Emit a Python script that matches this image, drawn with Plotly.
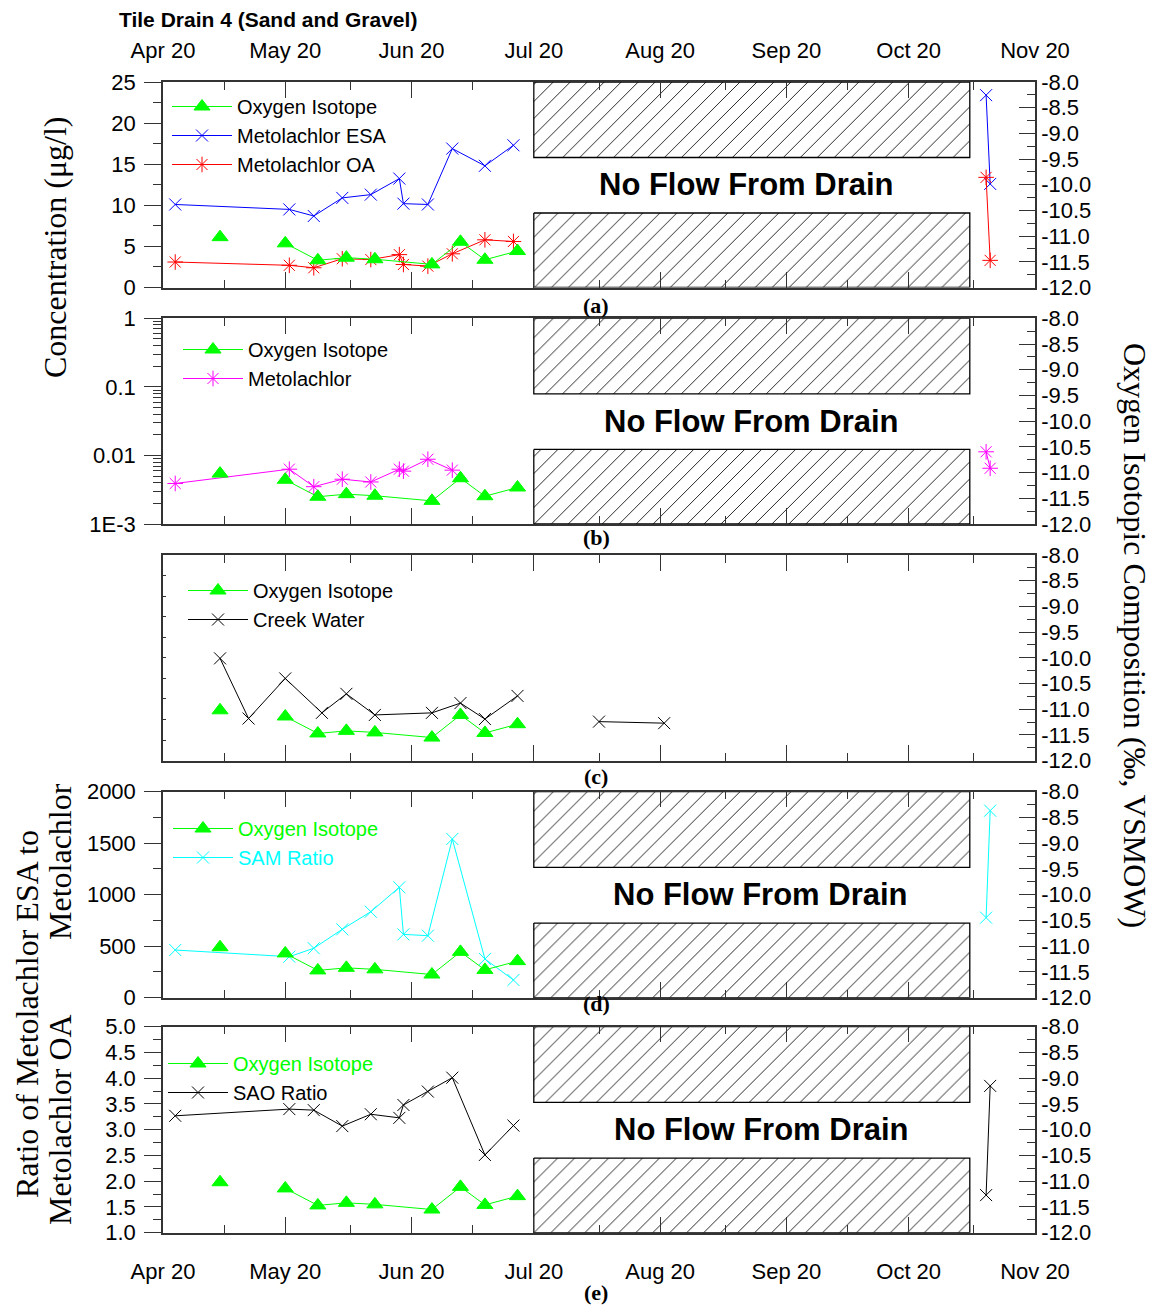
import plotly.graph_objects as go

# ---------------- data ----------------
X_START = "2001-04-20"
X_END = "2001-11-20"
NO_FLOW_START = "2001-07-20"
NO_FLOW_END = "2001-11-04"

iso_dates = ["2001-05-04", "2001-05-20", "2001-05-28", "2001-06-04", "2001-06-11",
             "2001-06-25", "2001-07-02", "2001-07-08", "2001-07-16"]
iso_values = [-11.02, -11.14, -11.47, -11.42, -11.45, -11.55, -11.11, -11.46, -11.29]
iso_breaks = [1]

sample_dates = ["2001-04-23", "2001-05-21", "2001-05-27", "2001-06-03", "2001-06-10",
                "2001-06-17", "2001-06-18", "2001-06-24", "2001-06-30", "2001-07-08",
                "2001-07-15", "2001-11-08", "2001-11-09"]
sample_breaks = [11]
esa_values = [10.1, 9.5, 8.7, 10.9, 11.3, 13.25, 10.2, 10.1, 16.9, 14.8, 17.3, 23.4, 12.6]
oa_values = [3.1, 2.7, 2.4, 3.5, 3.4, 4.0, 2.8, 2.6, 4.1, 5.8, 5.6, 13.4, 3.3]
sam_values = [463, 398, 480, 664, 835, 1072, 615, 602, 1541, 376, 172, 777, 1816]
sao_values = [3.27, 3.40, 3.38, 3.07, 3.30, 3.23, 3.48, 3.74, 4.01, 2.51, 3.08, 1.73, 3.85]

met_dates = ["2001-04-23", "2001-05-21", "2001-05-27", "2001-06-03", "2001-06-10",
             "2001-06-17", "2001-06-18", "2001-06-24", "2001-06-30", "2001-11-08",
             "2001-11-09"]
met_values = [0.0039, 0.0063, 0.0035, 0.0045, 0.0041, 0.0063, 0.0059, 0.0088, 0.0061,
              0.0113, 0.0065]
met_breaks = [9]

creek_dates = ["2001-05-04", "2001-05-11", "2001-05-20", "2001-05-29", "2001-06-04",
               "2001-06-11", "2001-06-25", "2001-07-02", "2001-07-08", "2001-07-16",
               "2001-08-05", "2001-08-21"]
creek_values = [-10.01, -11.18, -10.40, -11.07, -10.70, -11.11, -11.07, -10.88, -11.19,
                -10.74, -11.24, -11.27]
creek_breaks = [10]

ISO_RANGE = [-12, -8]
ISO_TICKS = [-12.0, -11.5, -11.0, -10.5, -10.0, -9.5, -9.0, -8.5, -8.0]
HATCH_UPPER = [-9.47, -8]
HATCH_LOWER = [-12, -10.55]

panel_letters = ["(a)", "(b)", "(c)", "(d)", "(e)"]

# ---------------- style ----------------
W, H = 1160, 1306
SANS = "Liberation Sans, Arial, sans-serif"
SERIF = "Liberation Serif, Times New Roman, serif"
GREEN = "#00FF00"
AXC = "#333333"

X0, X1 = 163, 1035
panels_px = [(82, 287.5), (318.3, 524), (555, 760.7), (791.7, 997.7), (1026.7, 1232.7)]
letter_y = [305, 537, 776, 1004, 1292]
legend_px = [(167, 87), (178, 330), (183, 571), (168, 809), (163, 1044)]
nf_xshift = [-3, 2, 0, 11, 12]


def broken(xs, ys, breaks):
    ox, oy = [], []
    for i, (a, b) in enumerate(zip(xs, ys)):
        if i in breaks:
            ox.append(None)
            oy.append(None)
        ox.append(a)
        oy.append(b)
    return ox, oy


fig = go.Figure()


def line_trace(xs, ys, breaks, name, color, symbol, size, xa, ya, leg, legname=None):
    bx, by = broken(xs, ys, breaks)
    fig.add_trace(go.Scatter(
        x=bx, y=by, mode="lines+markers", name=legname or name,
        line=dict(color=color, width=1),
        marker=dict(symbol=symbol, size=size, color=color,
                    line=dict(color=color, width=1)),
        xaxis=xa, yaxis=ya, legend=leg, connectgaps=False))


def iso_trace(n, leg, legname="Oxygen Isotope"):
    line_trace(iso_dates, iso_values, iso_breaks, "Oxygen Isotope", GREEN,
               "triangle-up", 14, f"x{n}", f"y{n + 5}", leg, legname)


def hatch(n):
    for lo, hi in (HATCH_UPPER, HATCH_LOWER):
        fig.add_trace(go.Scatter(
            x=[NO_FLOW_START, NO_FLOW_END, NO_FLOW_END, NO_FLOW_START, NO_FLOW_START],
            y=[hi, hi, lo, lo, hi], mode="lines", fill="toself",
            fillcolor="white",
            fillpattern=dict(shape="/", fgcolor="black", bgcolor="white",
                             size=12, solidity=0.07),
            line=dict(color="black", width=1.3),
            xaxis=f"x{n}", yaxis=f"y{n + 5}", showlegend=False, hoverinfo="skip"))


# panel (a)
hatch(1)
iso_trace(1, "legend")
line_trace(sample_dates, esa_values, sample_breaks, "Metolachlor ESA", "blue",
           "x-thin-open", 12, "x1", "y1", "legend")
line_trace(sample_dates, oa_values, sample_breaks, "Metolachlor OA", "red",
           "asterisk-open", 13, "x1", "y1", "legend")
# panel (b)
hatch(2)
iso_trace(2, "legend2")
line_trace(met_dates, met_values, met_breaks, "Metolachlor", "magenta",
           "asterisk-open", 13, "x2", "y2", "legend2")
# panel (c)
fig.add_trace(go.Scatter(x=[], y=[], xaxis="x3", yaxis="y3", showlegend=False))
iso_trace(3, "legend3")
line_trace(creek_dates, creek_values, creek_breaks, "Creek Water", "black",
           "x-thin-open", 12, "x3", "y8", "legend3")
# panel (d)
hatch(4)
iso_trace(4, "legend4", f"<span style='color:{GREEN}'>Oxygen Isotope</span>")
line_trace(sample_dates, sam_values, sample_breaks, "SAM Ratio", "cyan",
           "x-thin-open", 12, "x4", "y4", "legend4",
           "<span style='color:#00FFFF'>SAM Ratio</span>")
# panel (e)
hatch(5)
iso_trace(5, "legend5", f"<span style='color:{GREEN}'>Oxygen Isotope</span>")
line_trace(sample_dates, sao_values, sample_breaks, "SAO Ratio", "black",
           "x-thin-open", 12, "x5", "y5", "legend5")

# ---------------- layout ----------------
tickfont = dict(family=SANS, size=22, color="black")
layout = dict(template="none", width=W, height=H, margin=dict(l=0, r=0, t=0, b=0),
              paper_bgcolor="white", plot_bgcolor="white", showlegend=True,
              font=dict(family=SANS, color="black"))

left_specs = [
    dict(range=[0, 25], dtick=5, minor=dict(dtick=2.5, ticks="outside", ticklen=8,
                                            tickcolor=AXC)),
    dict(type="log", range=[-3, 0], tickvals=[0.001, 0.01, 0.1, 1],
         ticktext=["1E-3", "0.01", "0.1", "1"],
         minor=dict(dtick="D1", ticks="outside", ticklen=8, tickcolor=AXC)),
    dict(range=[0, 10], dtick=1, showticklabels=False, ticks="inside", ticklen=3),
    dict(range=[0, 2000], dtick=500, minor=dict(dtick=250, ticks="outside", ticklen=8,
                                                tickcolor=AXC)),
    dict(range=[1, 5], dtick=0.5, tickformat=".1f",
         minor=dict(dtick=0.25, ticks="outside", ticklen=8, tickcolor=AXC)),
]

for i, (top, bot) in enumerate(panels_px):
    n = i + 1
    ydom = [1 - bot / H, 1 - top / H]
    xa = dict(type="date", range=[X_START, X_END], tick0=X_START, dtick="M1",
              tickformat="%b %d", ticks="inside", ticklen=16, tickcolor=AXC,
              showline=True, linecolor=AXC, linewidth=1.5, mirror="ticks",
              showgrid=False, zeroline=False, tickfont=tickfont, automargin=False,
              domain=[X0 / W, X1 / W], anchor=f"y{n}",
              showticklabels=(n in (1, 5)), side="top" if n == 1 else "bottom",
              ticklabelstandoff=13 if n == 1 else 18,
              minor=dict(ticks="inside", ticklen=8, tick0="2001-05-05", dtick="M1",
                         tickcolor=AXC, showgrid=False))
    if n > 1:
        xa["matches"] = "x"
    layout["xaxis" if n == 1 else f"xaxis{n}"] = xa

    ya = dict(domain=ydom, anchor=f"x{n}", showline=True, linecolor=AXC, linewidth=1.5,
              ticks="outside", ticklen=17, tickcolor=AXC, showgrid=False,
              zeroline=False, tickfont=tickfont, automargin=False, ticklabelstandoff=4)
    ya.update(left_specs[i])
    layout["yaxis" if n == 1 else f"yaxis{n}"] = ya

    layout[f"yaxis{n + 5}"] = dict(
        overlaying=f"y{n}", side="right", anchor=f"x{n}", range=ISO_RANGE,
        tickmode="array", tickvals=ISO_TICKS, ticktext=[f"{v:.1f}" for v in ISO_TICKS],
        ticks="inside", ticklen=16, tickcolor=AXC, showline=True, automargin=False,
        linecolor=AXC, linewidth=1.5, showgrid=False, zeroline=False, tickfont=tickfont,
        minor=dict(dtick=0.25, ticks="inside", ticklen=8, tickcolor=AXC))

    lx, ly = legend_px[i]
    layout["legend" if n == 1 else f"legend{n}"] = dict(
        x=lx / W, y=1 - ly / H, xanchor="left", yanchor="top",
        bgcolor="rgba(0,0,0,0)", borderwidth=0, itemwidth=60,
        font=dict(family=SANS, size=20, color="black"), traceorder="normal")


def ann(text, x, y, size, family, angle=0, **kw):
    d = dict(text=text, x=x / W, y=1 - y / H, xref="paper", yref="paper",
             xanchor="center", yanchor="middle", showarrow=False, textangle=angle,
             font=dict(family=family, size=size, color="black"))
    d.update(kw)
    return d


annotations = []
for n in [1, 2, 4, 5]:
    annotations.append(dict(
        text="<b>No Flow From Drain</b>", x="2001-09-11", y=-10.0, xref=f"x{n}",
        yref=f"y{n + 5}", showarrow=False, xshift=nf_xshift[n - 1],
        xanchor="center", yanchor="middle",
        font=dict(family=SANS, size=31, color="black")))
for i, lab in enumerate(panel_letters):
    annotations.append(ann(f"<b>{lab}</b>", 596, letter_y[i], 22, SERIF))
annotations += [
    ann("<b>Tile Drain 4 (Sand and Gravel)</b>", 117, 19, 21, SANS, xanchor="left"),
    ann("Concentration (μg/l)", 55, 247, 32, SERIF, -90),
    ann("Ratio of Metolachlor ESA to", 27, 1014, 32, SERIF, -90),
    ann("Metolachlor", 60, 862, 32, SERIF, -90),
    ann("Metolachlor OA", 60, 1120, 32, SERIF, -90),
    ann("Oxygen Isotopic Composition (‰, VSMOW)", 1135, 635, 32, SERIF, 90),
]
layout["annotations"] = annotations
fig.update_layout(**layout)

fig.write_html("out.html", config={"displayModeBar": False},
               post_script="document.body.style.margin='0';")
